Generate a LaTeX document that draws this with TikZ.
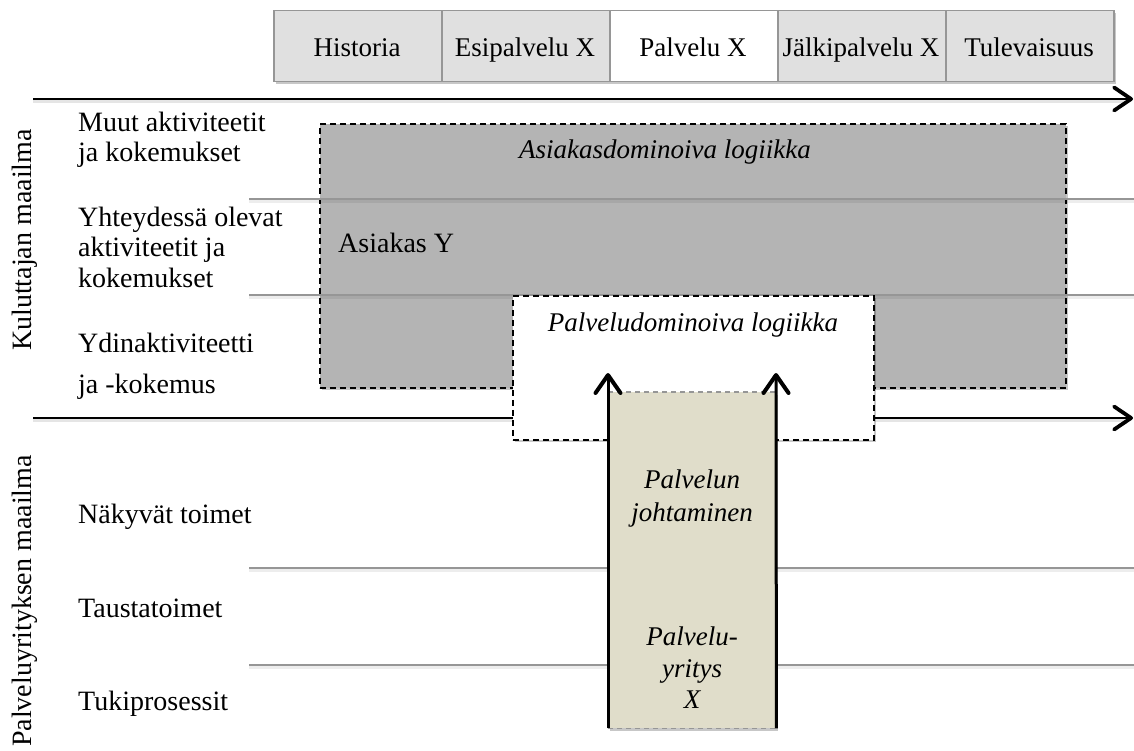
\documentclass[tikz,border=0pt]{standalone}
\usepackage{fontspec}
\setmainfont{Liberation Serif}
\usetikzlibrary{arrows.meta,shadows}

\definecolor{hdrfill}{RGB}{224,224,224}
\definecolor{hdrline}{RGB}{150,150,150}
\definecolor{boxgrey}{RGB}{180,180,180}
\definecolor{rulegrey}{RGB}{150,150,150}
\definecolor{beige}{RGB}{224,221,202}

\tikzset{
  softshadow/.style={drop shadow={shadow xshift=2pt,shadow yshift=-2.5pt,opacity=.22,fill=black}},
  hdrbox/.style={draw=hdrline,line width=1.5pt,fill=hdrfill,minimum width=168pt,
    minimum height=71pt,anchor=north west,inner sep=0pt,softshadow},
  hdrtext/.style={anchor=base,font=\fontsize{27}{30}\selectfont,inner sep=0pt},
  lbl/.style={anchor=base west,font=\fontsize{28}{30}\selectfont,inner sep=0pt},
  side/.style={anchor=base,rotate=90,font=\fontsize{28}{30}\selectfont,inner sep=0pt},
  itl/.style={anchor=base,font=\fontsize{27}{30}\selectfont\itshape,inner sep=0pt},
  dashbox/.style={draw=black,line width=1.6pt,dash pattern=on 6pt off 4pt,
    anchor=north west,inner sep=0pt,softshadow},
  hrule/.style={draw=rulegrey,line width=2pt},
  hruleshade/.style={draw=black,opacity=.07,line width=2.5pt},
  timeline/.style={line width=2.6pt,
    -{Straight Barb[length=17pt,width=23pt,line width=3.8pt,round]}},
  uparrow/.style={line width=3pt,
    -{Straight Barb[length=18pt,width=25pt,line width=4pt,round]}},
  lineshade/.style={draw=black,opacity=.1,line width=3pt},
  coledge/.style={draw=rulegrey,line width=1.6pt,dash pattern=on 5pt off 4pt},
}

\begin{document}
\begin{tikzpicture}[x=1pt,y=-1pt]
\useasboundingbox (0,0) rectangle (1134,751);

% ---- time phases along the top
\node[hdrbox] (h1) at (273,10) {};
\node[hdrbox] (h2) at (441,10) {};
\node[hdrbox,fill=white] (h3) at (609,10) {};
\node[hdrbox] (h4) at (777,10) {};
\node[hdrbox] (h5) at (945,10) {};
\node[hdrtext] (t1) at (357,57) {Historia};
\node[hdrtext] (t2) at (525,57) {Esipalvelu X};
\node[hdrtext] (t3) at (693,57) {Palvelu X};
\node[hdrtext] (t4) at (861,57) {Jälkipalvelu X};
\node[hdrtext] (t5) at (1029,57) {Tulevaisuus};

% ---- upper timeline
\coordinate (ta) at (33,99);
\coordinate (tb) at (1133,99);
\draw[lineshade] ([yshift=-2.5pt]ta) -- ([xshift=-8pt,yshift=-2.5pt]tb);
\draw[timeline] (ta) -- (tb);

% ---- customer-dominant logic area
\node[dashbox,fill=boxgrey,minimum width=746pt,minimum height=264pt] (cdl) at (319,123) {};

% ---- consumer-world layer rules
\coordinate (r1a) at (249,199); \coordinate (r1b) at (1134,199);
\coordinate (r2a) at (249,295); \coordinate (r2b) at (1134,295);
\draw[hruleshade] ([yshift=-2.5pt]r1a) -- ([yshift=-2.5pt]r1b);
\draw[hruleshade] ([yshift=-2.5pt]r2a) -- ([yshift=-2.5pt]r2b);
\draw[hrule] (r1a) -- (r1b);
\draw[hrule] (r2a) -- (r2b);

% ---- lower timeline
\coordinate (ma) at (33,418);
\coordinate (mb) at (1133,418);
\draw[lineshade] ([yshift=-2.5pt]ma) -- ([xshift=-8pt,yshift=-2.5pt]mb);
\draw[timeline] (ma) -- (mb);

% ---- service-dominant logic area
\node[dashbox,fill=white,minimum width=361pt,minimum height=144pt] (sdl) at (512,295) {};

% ---- company-world layer rules
\coordinate (r3a) at (249,568); \coordinate (r3b) at (1134,568);
\coordinate (r4a) at (249,665); \coordinate (r4b) at (1134,665);
\draw[hruleshade] ([yshift=-2.5pt]r3a) -- ([yshift=-2.5pt]r3b);
\draw[hruleshade] ([yshift=-2.5pt]r4a) -- ([yshift=-2.5pt]r4b);
\draw[hrule] (r3a) -- (r3b);
\draw[hrule] (r4a) -- (r4b);

% ---- service company column
\node[fill=beige,minimum width=168pt,minimum height=336pt,anchor=north west,
  inner sep=0pt,softshadow] (firm) at (608,392) {};
\draw[coledge] (firm.north west) -- (firm.north east);
\draw[coledge] (firm.south west) -- (firm.south east);
\coordinate (la) at (608,373);
\coordinate (ra) at (776,373);
\draw[uparrow] (firm.south west) -- (la);
\draw[uparrow] (firm.south east) -- (ra);

% ---- side titles
\node[side] (kw) at (31,240) {Kuluttajan maailma};
\node[side] (pw) at (31,601) {Palveluyrityksen maailma};

% ---- layer labels
\node[lbl] (l1a) at (78,132) {Muut aktiviteetit};
\node[lbl] (l1b) at (78,162) {ja kokemukset};
\node[lbl] (l2a) at (78,226) {Yhteydessä olevat};
\node[lbl] (l2b) at (78,257) {aktiviteetit ja};
\node[lbl] (l2c) at (78,287) {kokemukset};
\node[lbl] (l3a) at (78,352) {Ydinaktiviteetti};
\node[lbl] (l3b) at (78,393) {ja -kokemus};
\node[lbl] (l4) at (78,523) {Näkyvät toimet};
\node[lbl] (l5) at (78,617) {Taustatoimet};
\node[lbl] (l6) at (78,710) {Tukiprosessit};

% ---- area texts
\node[itl] (cdlt) at (665,159) {Asiakasdominoiva logiikka};
\node[lbl] (cust) at (338,253) {Asiakas Y};
\node[itl] (sdlt) at (693,331) {Palveludominoiva logiikka};
\node[itl] (m1) at (692,488) {Palvelun};
\node[itl] (m2) at (692,521) {johtaminen};
\node[itl] (f1) at (692,645) {Palvelu-};
\node[itl] (f2) at (692,677) {yritys};
\node[itl] (f3) at (692,708) {X};
\end{tikzpicture}
\end{document}
